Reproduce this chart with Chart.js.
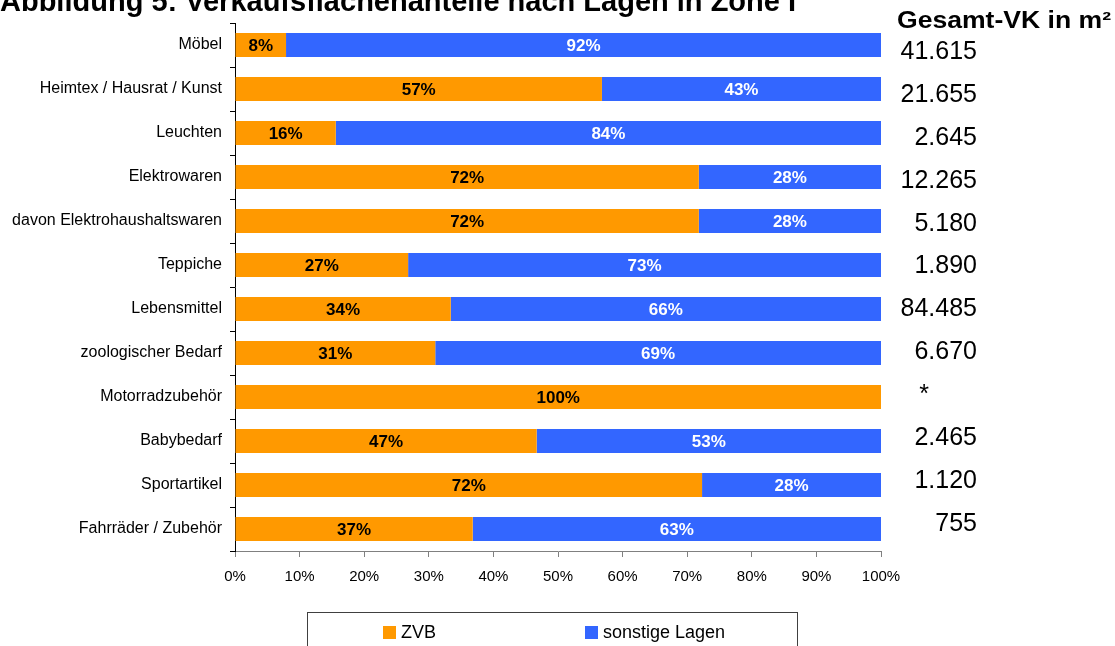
<!DOCTYPE html>
<html>
<head>
<meta charset="utf-8">
<script src="https://cdn.jsdelivr.net/npm/chart.js@4"></script>
<style>
html,body{margin:0;padding:0;background:#fff;}
#wrap{width:1115px;height:646px;position:relative;}
</style>
</head>
<body>
<div id="wrap"><canvas id="c" width="1115" height="646"></canvas></div>
<script>
const categories = ['Möbel','Heimtex / Hausrat / Kunst','Leuchten','Elektrowaren','davon Elektrohaushaltswaren','Teppiche','Lebensmittel','zoologischer Bedarf','Motorradzubehör','Babybedarf','Sportartikel','Fahrräder / Zubehör'];
const zvbValues = [7.9, 56.8, 15.6, 71.8, 71.8, 26.8, 33.4, 31.0, 100, 46.7, 72.3, 36.8];
const sonstigeValues = [92.1, 43.2, 84.4, 28.2, 28.2, 73.2, 66.6, 69.0, 0, 53.3, 27.7, 63.2];
const zvbLabels = ['8%','57%','16%','72%','72%','27%','34%','31%','100%','47%','72%','37%'];
const sonstigeLabels = ['92%','43%','84%','28%','28%','73%','66%','69%','','53%','28%','63%'];
const totals = ['41.615','21.655','2.645','12.265','5.180','1.890','84.485','6.670','*','2.465','1.120','755'];
const xTickLabels = ['0%','10%','20%','30%','40%','50%','60%','70%','80%','90%','100%'];
const seriesNames = ['ZVB','sonstige Lagen'];
const titleText = 'Abbildung 5: Verkaufsflächenanteile nach Lagen in Zone I';
const totalsHeader = 'Gesamt-VK in m²';

const FONT = 'Arial, "Liberation Sans", sans-serif';
const ORANGE = '#FF9900';
const BLUE = '#3366FF';

const segLabels = [zvbLabels, sonstigeLabels];
const segColors = ['#000000', '#FFFFFF'];

const barLabelPlugin = {
  id: 'barLabels',
  afterDatasetsDraw(chart) {
    const ctx = chart.ctx;
    ctx.save();
    ctx.font = 'bold 17px ' + FONT;
    ctx.textAlign = 'center';
    ctx.textBaseline = 'middle';
    chart.data.datasets.forEach((ds, di) => {
      const meta = chart.getDatasetMeta(di);
      meta.data.forEach((bar, i) => {
        const txt = segLabels[di][i];
        if (!txt) return;
        const cx = (bar.x + bar.base) / 2;
        ctx.fillStyle = segColors[di];
        ctx.fillText(txt, cx, bar.y + 1);
      });
    });
    ctx.restore();
  }
};

const extrasPlugin = {
  id: 'extras',
  afterDraw(chart) {
    const ctx = chart.ctx;
    const area = chart.chartArea;
    ctx.save();
    ctx.fillStyle = '#000';
    ctx.font = 'bold 29px ' + FONT;
    ctx.textAlign = 'left';
    ctx.textBaseline = 'alphabetic';
    ctx.fillText(titleText, 0, 11);

    ctx.font = 'bold 23px ' + FONT;
    const w = ctx.measureText(totalsHeader).width;
    ctx.save();
    ctx.translate(897, 22);
    ctx.scale(214 / w, 1);
    ctx.textBaseline = 'middle';
    ctx.fillText(totalsHeader, 0, 0);
    ctx.restore();

    ctx.font = '25px ' + FONT;
    ctx.textBaseline = 'middle';
    const step = (area.bottom - area.top - 56) / (totals.length - 1);
    totals.forEach((t, i) => {
      const y = area.top + 29 + i * step;
      if (t === '*') {
        ctx.textAlign = 'center';
        ctx.fillText(t, 924, y);
      } else {
        ctx.textAlign = 'right';
        ctx.fillText(t, 977, y);
      }
    });

    ctx.strokeStyle = '#404040';
    ctx.lineWidth = 1;
    ctx.strokeRect(307.5, 612.5, 490, 60);
    const items = [{x: 383, c: ORANGE}, {x: 585, c: BLUE}];
    ctx.font = '18px ' + FONT;
    ctx.textAlign = 'left';
    ctx.textBaseline = 'middle';
    chart.data.datasets.forEach((ds, di) => {
      const it = items[di];
      ctx.fillStyle = ds.backgroundColor;
      ctx.fillRect(it.x, 626, 13, 13);
      ctx.fillStyle = '#000';
      ctx.fillText(ds.label, it.x + 18, 633);
    });
    ctx.restore();
  }
};

new Chart(document.getElementById('c'), {
  type: 'bar',
  data: {
    labels: categories,
    datasets: [
      {label: seriesNames[0], data: zvbValues, backgroundColor: ORANGE, borderWidth: 0, barPercentage: 0.55, categoryPercentage: 1},
      {label: seriesNames[1], data: sonstigeValues, backgroundColor: BLUE, borderWidth: 0, barPercentage: 0.55, categoryPercentage: 1}
    ]
  },
  options: {
    indexAxis: 'y',
    responsive: false,
    devicePixelRatio: 1,
    animation: false,
    layout: {padding: {left: 0, right: 234, top: 23, bottom: 55}},
    plugins: {legend: {display: false}, tooltip: {enabled: false}, title: {display: false}},
    scales: {
      x: {
        stacked: true,
        min: 0, max: 100,
        ticks: {stepSize: 10, color: '#000', font: {family: FONT, size: 15}, padding: 11,
          callback: (v, i) => xTickLabels[i]},
        grid: {drawOnChartArea: false, tickLength: 6, tickColor: '#808080'},
        border: {color: '#808080', width: 1},
        afterFit: s => { s.height = 40; }
      },
      y: {
        stacked: true,
        ticks: {color: '#000', font: {family: FONT, size: 16}, padding: 8, autoSkip: false},
        grid: {offset: true, drawOnChartArea: false, tickLength: 5, tickColor: '#000'},
        border: {color: '#000', width: 1},
        afterFit: s => { s.width = 235; }
      }
    }
  },
  plugins: [barLabelPlugin, extrasPlugin]
});
</script>
</body>
</html>
